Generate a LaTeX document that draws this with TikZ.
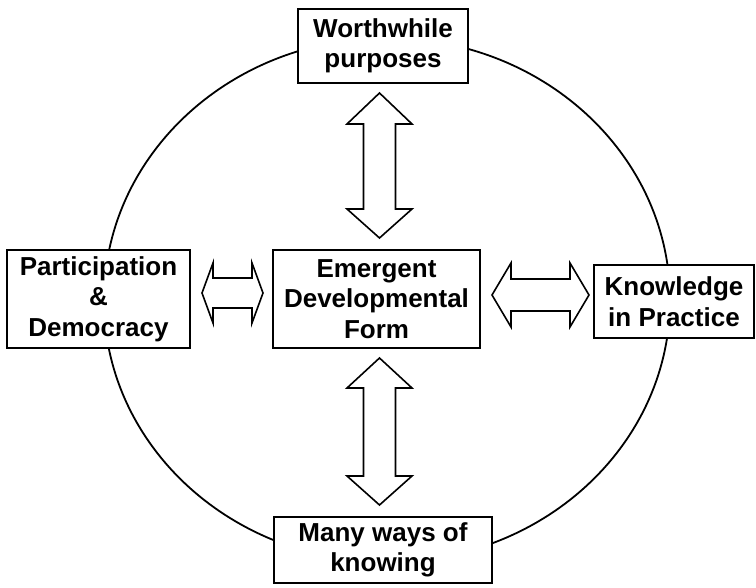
\documentclass[tikz,border=0pt]{standalone}
\usepackage{fontspec}
\setmainfont{Liberation Sans}
\begin{document}
\begin{tikzpicture}[x=1pt,y=-1pt,
  box/.style={draw, line width=1.8pt, fill=white, rectangle, inner sep=0pt, align=center,
    font=\fontsize{26}{30.5}\selectfont\bfseries},
  dbl/.style={draw, line width=1.6pt, fill=white, line join=miter}]
\useasboundingbox (0,0) rectangle (756,588);
% ring
\draw[line width=1.8pt] (387,300) ellipse [x radius=283, y radius=262];
% boxes
\node[box, minimum width=170pt, minimum height=74pt] (top) at (383,46) {Worthwhile\\purposes};
\node[box, minimum width=183pt, minimum height=98pt] (left) at (98.5,299) {Participation\\\&\\Democracy};
\node[box, minimum width=207pt, minimum height=98pt] (center) at (376.5,299) {Emergent\\Developmental\\Form};
\node[box, minimum width=160pt, minimum height=73pt] (right) at (674,301.5) {Knowledge\\in Practice};
\node[box, minimum width=218pt, minimum height=66pt] (bottom) at (383,550) {Many ways of\\knowing};
% arrow tips
\coordinate (aT) at (379.5,93);
\coordinate (aB) at (379.5,358);
\coordinate (aL) at (202,293);
\coordinate (aR) at (492,295);
% double arrows
\draw[dbl] (aT) -- ++(32.5,31) -- ++(-16.5,0) -- ++(0,85) -- ++(16.5,0) -- ++(-32.5,29)
  -- ++(-32.5,-29) -- ++(16.5,0) -- ++(0,-85) -- ++(-16.5,0) -- cycle;
\draw[dbl] (aB) -- ++(32.5,30) -- ++(-16.5,0) -- ++(0,88) -- ++(16.5,0) -- ++(-32.5,29)
  -- ++(-32.5,-29) -- ++(16.5,0) -- ++(0,-88) -- ++(-16.5,0) -- cycle;
\draw[dbl] (aL) -- ++(11,-30) -- ++(0,15) -- ++(39,0) -- ++(0,-15) -- ++(11,30)
  -- ++(-11,30) -- ++(0,-15) -- ++(-39,0) -- ++(0,15) -- cycle;
\draw[dbl] (aR) -- ++(19,-32) -- ++(0,16) -- ++(59,0) -- ++(0,-16) -- ++(19,32)
  -- ++(-19,32) -- ++(0,-16) -- ++(-59,0) -- ++(0,16) -- cycle;
\end{tikzpicture}
\end{document}
